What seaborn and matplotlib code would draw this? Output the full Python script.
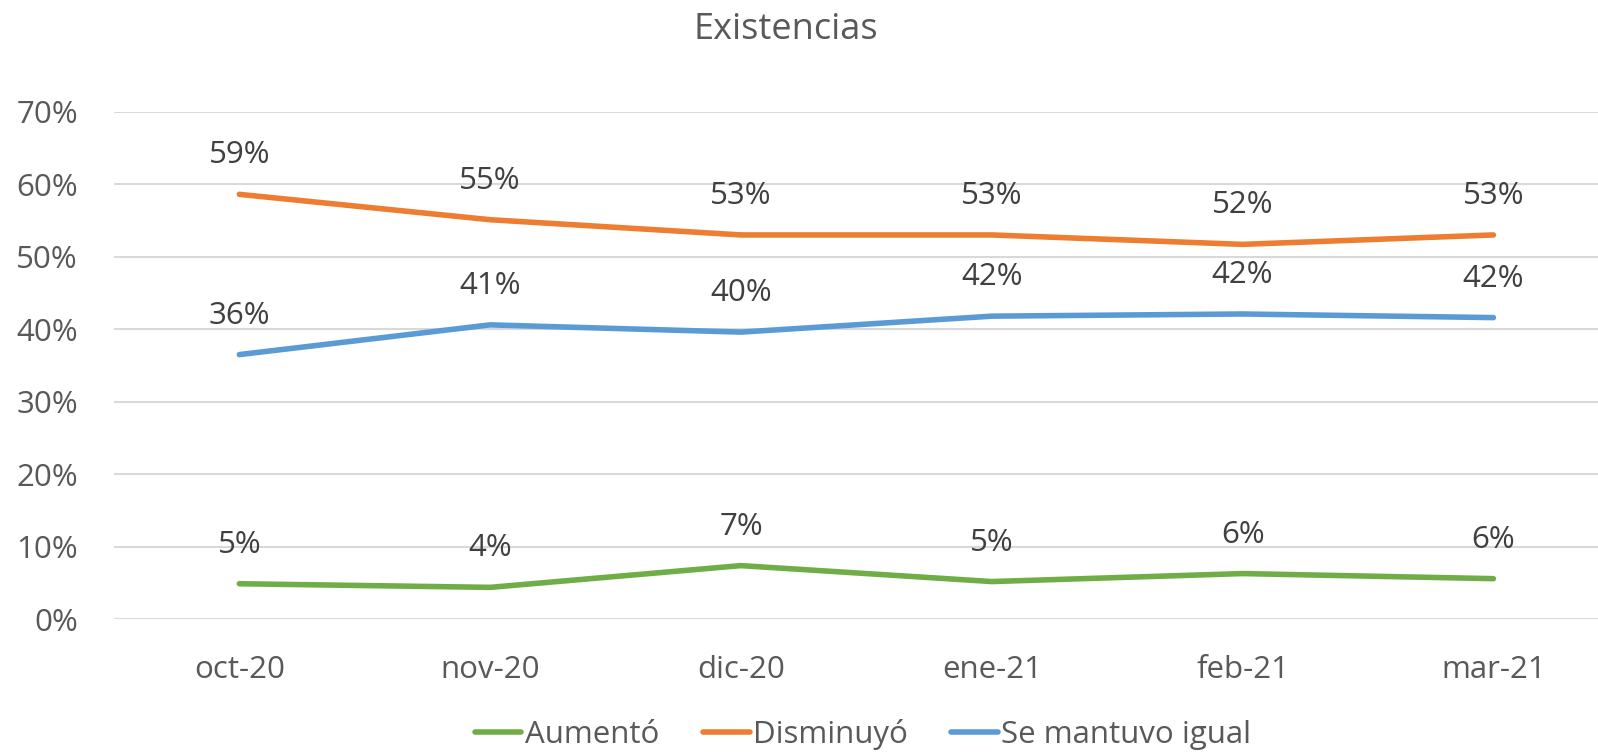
import pandas as pd
import numpy as np
import matplotlib
matplotlib.use("Agg")
import matplotlib.pyplot as plt
from matplotlib.ticker import PercentFormatter
import seaborn as sns

# Data
months = ["oct-20", "nov-20", "dic-20", "ene-21", "feb-21", "mar-21"]
aumento = [0.049, 0.044, 0.074, 0.052, 0.063, 0.056]
disminuyo = [0.586, 0.551, 0.530, 0.530, 0.517, 0.530]
se_mantuvo = [0.365, 0.406, 0.396, 0.418, 0.421, 0.416]

series_names = ["Aumentó", "Disminuyó", "Se mantuvo igual"]
colors = ["#70AD47", "#ED7D31", "#5B9BD5"]

df = pd.DataFrame({
    "mes": months * 3,
    "x": list(range(len(months))) * 3,
    "valor": aumento + disminuyo + se_mantuvo,
    "serie": np.repeat(series_names, len(months)),
})

sns.set_theme(style="white")
plt.rcParams["font.family"] = ["Open Sans", "DejaVu Sans"]

fig = plt.figure(figsize=(15.98, 7.53), dpi=100)
ax = fig.add_axes([0.0713, 0.1776, 0.9287, 0.6741])

sns.lineplot(data=df, x="x", y="valor", hue="serie", hue_order=series_names,
             palette=colors, linewidth=4, ax=ax, legend=False,
             solid_capstyle="round")

# data labels above each point
for _, row in df.iterrows():
    ax.annotate(f"{row['valor']*100:.0f}%", (row["x"], row["valor"]),
                xytext=(0, 28), textcoords="offset points",
                ha="center", va="center", fontsize=22.5, color="#404040")

ax.set_xlim(-0.5, -0.5 + (1598 - 114) / 250.8)
ax.set_ylim(0, 0.7)
ax.set_yticks(np.arange(0, 0.71, 0.1))
ax.yaxis.set_major_formatter(PercentFormatter(1.0, decimals=0))
ax.set_xticks(range(len(months)))
ax.set_xticklabels(months)
ax.tick_params(axis="both", labelsize=22.5, colors="#595959", length=0)
ax.tick_params(axis="x", pad=26)
ax.tick_params(axis="y", pad=26)
ax.grid(axis="y", color="#D9D9D9", linewidth=1.5)
ax.set_axisbelow(True)
for s in ax.spines.values():
    s.set_visible(False)
ax.set_xlabel("")
ax.set_ylabel("")

fig.text(0.492, 0.96, "Existencias", ha="center", va="center",
         fontsize=26, color="#595959")

handles = [plt.Line2D([0], [0], color=c, linewidth=4, solid_capstyle="round")
           for c in colors]
fig.legend(handles, series_names, loc="center", bbox_to_anchor=(0.54, 0.025),
           ncol=3, frameon=False, fontsize=22.5, handlelength=1.5,
           handletextpad=0.1, columnspacing=1.4, labelcolor="#595959")

fig.savefig("out.png", dpi=100)
